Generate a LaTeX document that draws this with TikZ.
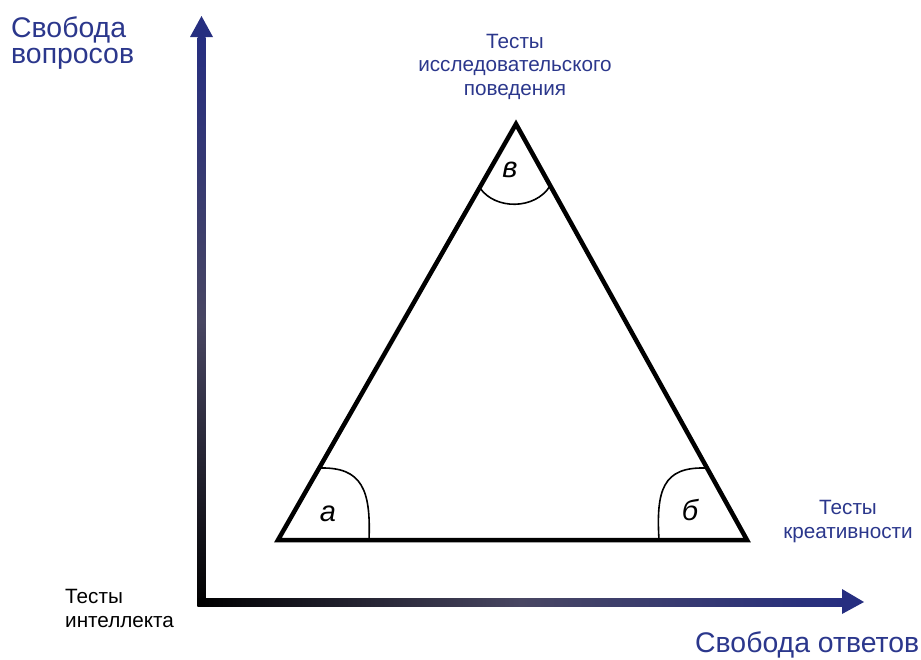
\documentclass[tikz,border=0pt]{standalone}
\usepackage{fontspec}
\setmainfont{Liberation Sans}
\definecolor{axisblue}{RGB}{38,46,128}
\definecolor{axismid}{RGB}{72,70,98}
\definecolor{textblue}{RGB}{43,55,140}
\tikzset{
  biglabel/.style={inner sep=0pt, text=textblue, align=left,
    font=\fontsize{28.4}{26}\selectfont},
  smalllabel/.style={inner sep=0pt, text=textblue, align=center,
    font=\fontsize{20.7}{23.5}\selectfont},
  anglemark/.style={inner sep=0pt, font=\fontsize{29}{30}\selectfont\itshape},
  side/.style={line width=4.5pt, miter limit=20},
  arc/.style={line width=1.6pt}
}

\begin{document}
\begin{tikzpicture}[x=1pt, y=-1pt]
    \useasboundingbox (0, 0) rectangle (921, 659);
    % axes
    \coordinate (o)    at (201.5, 602);
    \coordinate (yend) at (201.5, 16);
    \coordinate (xend) at (864, 602);
    \shade [bottom color=black, top color=axisblue, middle color=axismid]
        (197.5, 606) rectangle (205.5, 37);
    \shade [left color=black, right color=axisblue, middle color=axismid]
        (197.5, 598) rectangle (843, 606);
    \fill [axisblue] (yend) -- (213, 37) -- (190, 37) -- cycle;
    \fill [axisblue] (xend) -- (842, 614) -- (842, 589) -- cycle;
    % triangle
    \coordinate (a) at (278, 540);
    \coordinate (b) at (747, 540);
    \coordinate (c) at (516, 124);
    \draw [side] (a) -- (b) -- (c) -- cycle;
    % angles
    \draw [arc] (320, 468) .. controls (362, 467) and (371, 490) .. (369, 540);
    \draw [arc] (705, 468) .. controls (663, 467) and (656, 490) .. (659, 540);
    \draw [arc] (480, 188) .. controls (495, 210) and (535, 210) .. (550, 186);
    \node [anglemark, anchor=base] (la) at (328, 521) {а};
    \node [anglemark, anchor=base] (lb) at (690, 520) {б};
    \node [anglemark, anchor=base] (lc) at (510, 177) {в};
    % texts (base = last line)
    \node [biglabel, anchor=base west] (questions) at (11, 63) {Свобода\\вопросов};
    \node [biglabel, anchor=base west] (answers) at (695, 652) {Свобода ответов};
    \node [smalllabel, anchor=base] (explore) at (515, 95)
        {Тесты\\исследовательского\\поведения};
    \node [smalllabel, anchor=base] (creative) at (848, 538) {Тесты\\креативности};
    \node [smalllabel, anchor=base west, text=black, align=left] (intellect)
        at (65, 627) {Тесты\\интеллекта};
\end{tikzpicture}
\end{document}
